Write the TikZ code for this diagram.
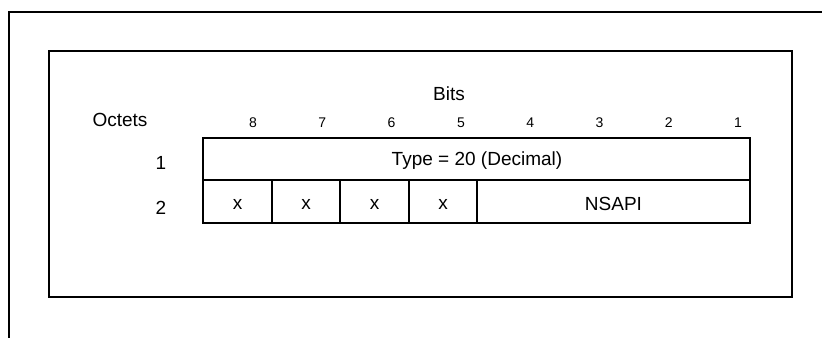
\documentclass[tikz,border=0pt]{standalone}
\usepackage{fontspec}
\setmainfont{Liberation Sans}
\usetikzlibrary{positioning}

\tikzset{
  lbl/.style={inner sep=0pt,font=\fontsize{19}{23}\selectfont},
  bitno/.style={inner sep=0pt,font=\fontsize{14}{16}\selectfont},
  sep/.style={line width=2pt}
}

\begin{document}
\begin{tikzpicture}[x=1pt,y=-1pt]
\useasboundingbox (0,0) rectangle (822,338);
% outside frames
\draw[line width=2pt] (822,12.3) to (9,12.3) to (9,338);
\draw[line width=2pt] (49,50.7) rectangle (791.7,296.7);
% headings
\node[lbl] (octets) at (120,120) {Octets};
\node[lbl] (bits) at (449,94) {Bits};
\foreach \b in {8,...,1}
  \node[bitno] (bit\b) at ({253+(8-\b)*69.3},123) {\b};
% octet 1
\draw[line width=1.3pt] (203,138) rectangle (750,223);
\node[lbl] (type) at (477,161) {Type = 20 (Decimal)};
\node[lbl] (oct1) at (161,163) {1};
% octet 2
\draw[sep] (203,180) to (750,180);
\foreach \x in {272,340,409,477}
  \draw[sep] (\x,180) to (\x,223);
\foreach \x/\n in {237.5/a,306/b,374.5/c,443/d}
  \node[lbl] (spare\n) at (\x,204) {x};
\node[lbl] (nsapi) at (613.5,204) {NSAPI};
\node[lbl] (oct2) at (161,208) {2};
\end{tikzpicture}
\end{document}
